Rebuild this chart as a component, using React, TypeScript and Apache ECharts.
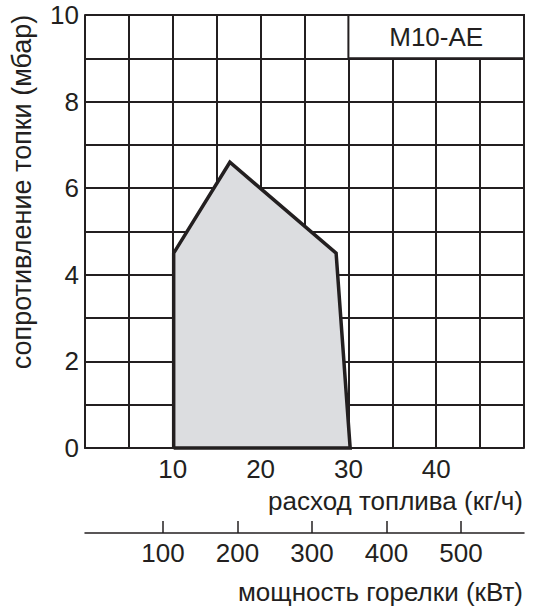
import React, { useEffect, useRef } from "react";
import * as echarts from "echarts";

const fuelTicks = [10, 20, 30, 40];
const pressureTicks = [0, 2, 4, 6, 8, 10];
const powerTicks = [100, 200, 300, 400, 500];
const fieldX = [10.1, 10.1, 16.5, 28.6, 30.2, 10.1];
const fieldY = [0, 4.5, 6.6, 4.5, 0, 0];
const modelLabel = "M10-AE";
const fuelName = "расход топлива (кг/ч)";
const powerName = "мощность горелки (кВт)";
const pressureName = "сопротивление топки (мбар)";

const INK = "#231f20";
const FONT = "'Liberation Sans', Arial, sans-serif";
const FS = 26;

export default function App() {
  const ref = useRef<HTMLDivElement>(null);
  useEffect(() => {
    if (!ref.current) return;
    const chart = echarts.init(ref.current, null, { renderer: "svg" });
    chart.setOption({
      animation: false,
      backgroundColor: "#ffffff",
      textStyle: { fontFamily: FONT, color: INK },
      grid: { left: 85, right: 10, top: 15, bottom: 162, containLabel: false },
      xAxis: [
        {
          type: "value",
          min: 0,
          max: 50,
          interval: 5,
          axisLine: { show: true, onZero: false, lineStyle: { color: INK, width: 2 } },
          axisTick: { show: false },
          splitLine: { show: true, lineStyle: { color: INK, width: 2 } },
          axisLabel: {
            margin: 11,
            fontSize: FS,
            lineHeight: 20,
            color: INK,
            fontFamily: FONT,
            formatter: (v: number) => (fuelTicks.includes(v) ? String(v) : ""),
          },
        },
        {
          type: "value",
          position: "bottom",
          offset: 85,
          min: -4.57,
          max: 584.7,
          axisLine: { show: true, onZero: false, lineStyle: { color: INK, width: 1.5 } },
          axisTick: {
            show: true,
            inside: true,
            length: 12,
            customValues: powerTicks,
            lineStyle: { color: INK, width: 1.5 },
          },
          splitLine: { show: false },
          axisLabel: {
            margin: 10,
            fontSize: FS,
            lineHeight: 20,
            color: INK,
            fontFamily: FONT,
            customValues: powerTicks,
          },
        },
      ],
      yAxis: {
        type: "value",
        min: 0,
        max: 10,
        interval: 1,
        axisLine: { show: true, lineStyle: { color: INK, width: 2 } },
        axisTick: { show: false },
        splitLine: { show: true, lineStyle: { color: INK, width: 2 } },
        axisLabel: {
          margin: 6,
          fontSize: FS,
          color: INK,
          fontFamily: FONT,
          formatter: (v: number) => (pressureTicks.includes(v) ? String(v) : ""),
        },
      },
      series: [
        {
          type: "line",
          xAxisIndex: 0,
          yAxisIndex: 0,
          data: fieldX.map((x, i) => [x, fieldY[i]]),
          symbol: "none",
          clip: false,
          lineStyle: { color: INK, width: 3.5, join: "miter" },
          areaStyle: { color: "#dcdde0", opacity: 1 },
          z: 3,
          markArea: {
            silent: true,
            itemStyle: { color: "#ffffff", borderColor: INK, borderWidth: 2 },
            label: {
              show: true,
              position: "inside",
              color: INK,
              fontSize: FS,
              fontFamily: FONT,
            },
            data: [[{ name: modelLabel, coord: [30, 9] }, { coord: [50, 10] }]],
          },
        },
      ],
      graphic: [
        {
          type: "text",
          x: 523,
          y: 501,
          style: {
            text: fuelName,
            font: `${FS}px ${FONT}`,
            lineHeight: 20,
            fill: INK,
            align: "right",
            verticalAlign: "middle",
          },
        },
        {
          type: "text",
          x: 523,
          y: 592,
          style: {
            text: powerName,
            font: `${FS}px ${FONT}`,
            lineHeight: 20,
            fill: INK,
            align: "right",
            verticalAlign: "middle",
          },
        },
        {
          type: "text",
          x: 22,
          y: 192,
          rotation: Math.PI / 2,
          style: {
            text: pressureName,
            font: `27px ${FONT}`,
            fill: INK,
            align: "center",
            verticalAlign: "middle",
          },
        },
      ],
    });
    return () => chart.dispose();
  }, []);
  return <div ref={ref} style={{ width: 534, height: 610, position: "absolute", left: 0, top: 0 }} />;
}
